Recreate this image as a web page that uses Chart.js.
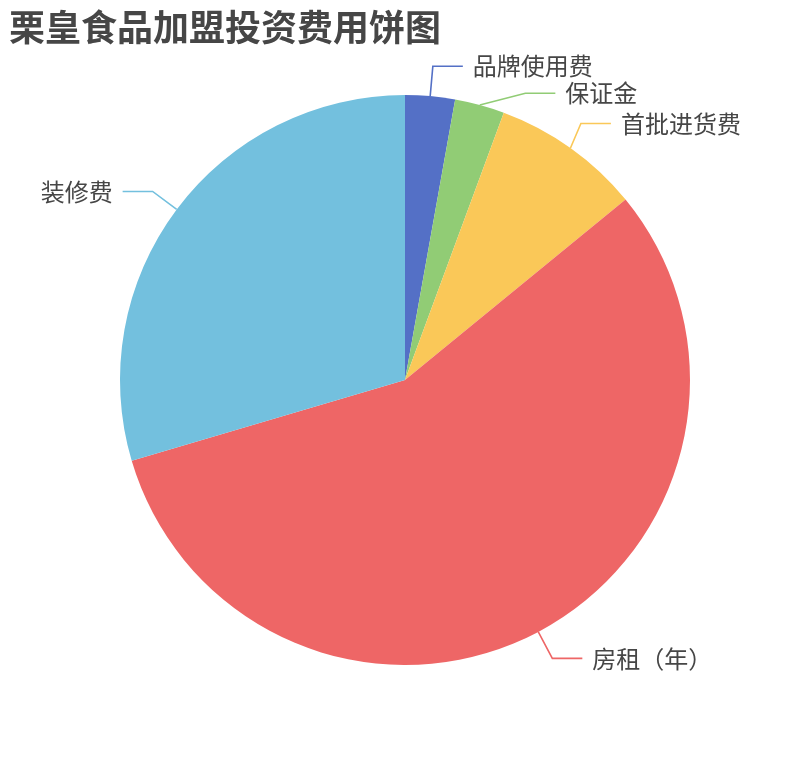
<!DOCTYPE html>
<html>
<head>
<meta charset="utf-8">
<script src="https://cdn.jsdelivr.net/npm/chart.js@4/dist/chart.umd.min.js"></script>
<style>
  html, body { margin: 0; padding: 0; background: #fff; }
  #wrap { position: relative; width: 810px; height: 760px; }
  #title {
    position: absolute; left: 9px; top: 3px;
    font: bold 36px "Noto Sans CJK SC", sans-serif;
    color: #464646; line-height: 44px; white-space: nowrap;
  }
  canvas { position: absolute; left: 0; top: 0; }
</style>
</head>
<body>
<div id="wrap">
  <canvas id="pie" width="810" height="760"></canvas>
  <div id="title">栗皇食品加盟投资费用饼图</div>
</div>
<script>
// ─── Data ─────────────────────────────────────────────────
const labels = ['品牌使用费', '保证金', '首批进货费', '房租（年）', '装修费'];
const values = [1, 1, 3, 20, 10.5];
const colors = ['#5470c6', '#91cc75', '#fac858', '#ee6666', '#73c0de'];

// ─── Outside labels with leader lines (echarts-ish) ───────
const LEN1 = 30, LEN2 = 30, GAP = 10, LINE_H = 27;
const LABEL_FONT = '24px "Noto Sans CJK SC", sans-serif';

const pieLabels = {
    id: 'pieLabels',
    afterDraw(chart) {
        const ctx  = chart.ctx;
        const arcs = chart.getDatasetMeta(0).data;
        const items = arcs.map((arc, i) => {
            const p   = arc.getProps(['x', 'y', 'startAngle', 'endAngle', 'outerRadius'], true);
            const mid = (p.startAngle + p.endAngle) / 2;
            const r   = p.outerRadius;
            return {
                i, cx: p.x, cy: p.y, r,
                sx: p.x + Math.cos(mid) * r,
                sy: p.y + Math.sin(mid) * r,
                ex: p.x + Math.cos(mid) * (r + LEN1),
                ey: p.y + Math.sin(mid) * (r + LEN1),
                right: Math.cos(mid) >= 0,
            };
        });

        // push overlapping labels down, per side; only the crowded half is re-curved
        [true, false].forEach(side => {
            const list = items.filter(t => t.right === side).sort((a, b) => a.ey - b.ey);
            let upperShift = false;
            for (let k = 1; k < list.length; k++) {
                if (list[k].ey < list[k - 1].ey + LINE_H) {
                    list[k].ey = list[k - 1].ey + LINE_H;
                    if (list[k].ey < list[k].cy) upperShift = true;
                }
            }
            if (!upperShift) return;
            list.filter(t => t.ey < t.cy).forEach(t => {
                const R  = t.r + LEN1 - 4;
                const dy = t.ey - t.cy;
                if (dy * dy < R * R) {
                    const dx = Math.sqrt(R * R - dy * dy);
                    t.ex = t.cx + (side ? dx : -dx);
                }
            });
        });

        ctx.save();
        ctx.lineWidth = 1.6;
        ctx.font = LABEL_FONT;
        ctx.textBaseline = 'middle';
        items.forEach(t => {
            const dir = t.right ? 1 : -1;
            const hx  = t.ex + dir * LEN2;
            ctx.strokeStyle = colors[t.i];
            ctx.beginPath();
            ctx.moveTo(t.sx, t.sy);
            ctx.lineTo(t.ex, t.ey);
            ctx.lineTo(hx, t.ey);
            ctx.stroke();
            ctx.fillStyle = '#464646';
            ctx.textAlign = t.right ? 'left' : 'right';
            ctx.fillText(labels[t.i], hx + dir * GAP, t.ey);
        });
        ctx.restore();
    }
};

// ─── Chart ────────────────────────────────────────────────
new Chart(document.getElementById('pie').getContext('2d'), {
    type: 'pie',
    data: {
        labels,
        datasets: [{
            data: values,
            backgroundColor: colors,
            borderWidth: 0,
            hoverOffset: 0,
        }]
    },
    options: {
        responsive: false,
        animation: false,
        layout: { padding: { top: 95, bottom: 95, left: 120, right: 120 } },
        plugins: {
            legend: { display: false },
            tooltip: { enabled: false },
            title: { display: false },
        }
    },
    plugins: [pieLabels]
});
</script>
</body>
</html>
